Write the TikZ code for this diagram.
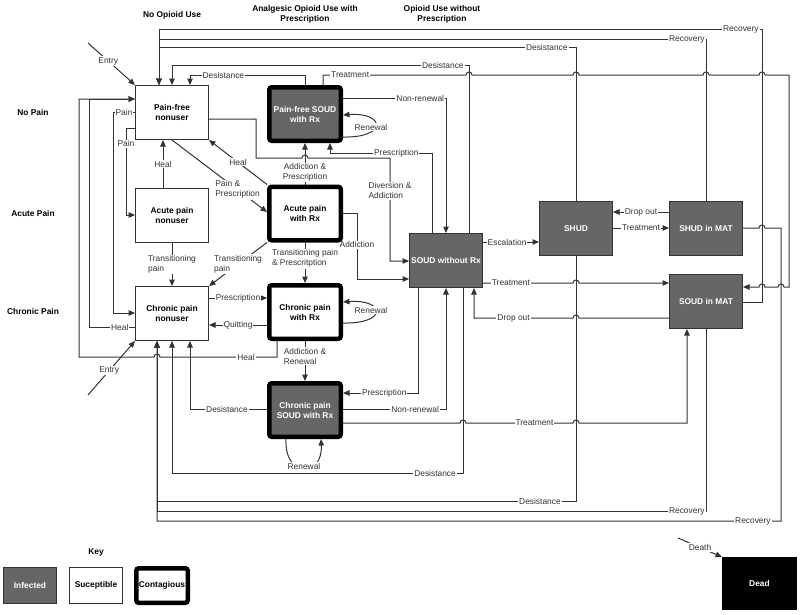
\documentclass[tikz,border=0pt]{standalone}
\usepackage{fontspec}
\setmainfont{Liberation Sans}
\usetikzlibrary{arrows.meta}
\definecolor{lc}{HTML}{333333}
\definecolor{infc}{HTML}{666666}
\newcommand\lblsize{\fontsize{8.4}{10}\selectfont}
\pgfdeclarelayer{bg}
\pgfsetlayers{bg,main}
\begin{document}
\begin{tikzpicture}[x=1pt,y=-1pt,
  box/.style={draw=lc, line width=0.8pt, minimum width=73.2pt, minimum height=54.2pt, inner sep=1pt, font=\bfseries\lblsize, align=center},
  sus/.style={box, fill=white, text=black},
  inf/.style={box, fill=infc, text=white},
  con/.style={box, draw=black, line width=4.5pt, rounded corners=2.5pt, minimum width=71.5pt, minimum height=53.5pt},
  hdr/.style={font=\bfseries\lblsize, text=black, inner sep=0pt, align=center},
  lbl/.style={fill=white, inner sep=1pt, font=\lblsize, text=lc},
  arr/.style={draw=lc, line width=1pt, -{Triangle[length=6.5pt,width=5.5pt]}}]
\useasboundingbox (0,0) rectangle (800,614);
% headers
\node[hdr] (h1) at (172,15) {No Opioid Use};
\node[hdr] (h2) at (305,14) {Analgesic Opioid Use with\\Prescription};
\node[hdr] (h3) at (442,14) {Opioid Use without\\Prescription};
\node[hdr] (r1) at (33,112) {No Pain};
\node[hdr] (r2) at (33,213) {Acute Pain};
\node[hdr] (r3) at (33,311) {Chronic Pain};
% boxes
\node[sus] (pfn) at (172,112.5) {Pain-free\\nonuser};
\node[con, fill=infc, text=white] (pfs) at (305,114) {Pain-free SOUD\\with Rx};
\node[sus] (apn) at (172,215.5) {Acute pain\\nonuser};
\node[con, fill=white] (apr) at (305,213.5) {Acute pain\\with Rx};
\node[sus] (cpn) at (172,313.5) {Chronic pain\\nonuser};
\node[con, fill=white] (cpr) at (305,312) {Chronic pain\\with Rx};
\node[con, fill=infc, text=white] (cps) at (305,410) {Chronic pain\\SOUD with Rx};
\node[inf] (sw) at (446,260.5) {SOUD without Rx};
\node[inf] (shud) at (576,228.5) {SHUD};
\node[inf] (shm) at (706,228.5) {SHUD in MAT};
\node[inf] (smat) at (706,301.5) {SOUD in MAT};
\node[box, draw=black, fill=black, text=white, minimum width=74.2pt, minimum height=52.2pt] (dead) at (759.5,583.5) {Dead};
% key
\node[hdr] (keyt) at (96,552) {Key};
\node[inf, minimum width=53pt, minimum height=36pt] (k1) at (30,585.5) {Infected};
\node[sus, minimum width=53pt, minimum height=36pt] (k2) at (96,585.5) {Suceptible};
\node[con, fill=white, minimum width=51.5pt, minimum height=34.5pt] (k3) at (162,585.5) {Contagious};
\coordinate (e1) at (88,43);
\coordinate (e2) at (88,395);
\coordinate (d1) at (678,538);
\begin{pgfonlayer}{bg}
\fill[white] (0,0) rectangle (800,614);
% entry / death
\draw[arr] (e1) -- node[lbl,pos=0.43]{Entry} (pfn.north west);
\draw[arr] (e2) -- node[lbl,pos=0.45]{Entry} (cpn.south west);
\draw[arr] (d1) -- node[lbl,pos=0.5]{Death} (dead.north west);
% no opioid column
\draw[arr] (apn.north -| 163,0) -- node[lbl]{Heal} (pfn.south -| 163,0);
\draw[arr] (apn.south) -- node[lbl,align=left]{Transitioning\\pain} (cpn.north);
\draw[arr] (pfn.south) -- node[lbl,align=left,pos=0.69]{Pain \&\\Prescription} (apr.west |- 0,212);
\draw[arr] (apr.north west) -- node[lbl]{Heal} (pfn.south east);
\draw[arr] (apr.south west) -- node[lbl,align=left]{Transitioning\\pain} (cpn.north east);
\draw[arr] (apr.north) -- node[lbl,align=center,pos=0.29]{Addiction \&\\Prescription} (pfs.south);
\draw[arr] (apr.south) -- node[lbl,align=left,pos=0.4]{Transitioning pain\\\& Prescritption} (cpr.north);
\draw[arr] (cpr.south) -- node[lbl,align=left,pos=0.38]{Addiction \&\\Renewal} (cps.north);
\draw[arr] (cpn.east |- 0,298) -- node[lbl]{Prescription} (cpr.west |- 0,298);
\draw[arr] (cpr.west |- 0,325) -- node[lbl]{Quitting} (cpn.east |- 0,325);
% renewal loops
\draw[arr] (pfs.east |- 0,137) .. controls (388,138) and (385,112) .. (pfs.east |- 0,115);
\node[lbl] (rn1) at (371,127) {Renewal};
\draw[arr] (cpr.east |- 0,323) .. controls (388,324) and (385,299) .. (cpr.east |- 0,302);
\node[lbl] (rn2) at (371,310) {Renewal};
\draw[arr] (cps.south -| 286,0) .. controls (284,478) and (323,478) .. (cps.south -| 321,0);
\node[lbl] (rn3) at (304,466) {Renewal};
% to / from SOUD without Rx
\draw[arr] (pfs.east |- 0,98) -- node[lbl,pos=0.75]{Non-renewal} (446,98) -- (sw.north);
\draw[arr] (sw.north -| 432,0) -- (432,153) -- node[lbl,pos=0.35]{Prescription} (330,153) -- (pfs.south -| 330,0);
\draw[arr] (pfn.east |- 0,119) -- (256,119) -- (256,158) -- (302,158) .. controls +(0,-4) and +(0,-4) .. (308,158) -- (390,158) -- node[lbl,align=left,pos=0.32]{Diversion \&\\Addiction} (390,261) -- (sw.west |- 0,261);
\draw[arr] (apr.east |- 0,213) -- (357,213) -- node[lbl,pos=0.48]{Addiction} (357,279) -- (sw.west |- 0,279);
\draw[arr] (sw.east |- 0,242) -- node[lbl,pos=0.43]{Escalation} (shud.west |- 0,242);
\draw[arr] (sw.east |- 0,283) -- node[lbl,pos=0.31]{Treatment} (573,283) .. controls +(0,-4) and +(0,-4) .. (579,283) -- (smat.west |- 0,283);
\draw[arr] (smat.west |- 0,318) -- (579,318) .. controls +(0,-4) and +(0,-4) .. (573,318) -- node[lbl,pos=0.6]{Drop out} (474,318) -- (sw.south -| 474,0);
\draw[arr] (shm.west |- 0,212) -- node[lbl]{Drop out} (shud.east |- 0,212);
\draw[arr] (shud.east |- 0,228) -- node[lbl]{Treatment} (shm.west |- 0,228);
% top lines
\draw[arr] (shud.north) -- (576,47) -- node[lbl,pos=0.07]{Desistance} (159,47) -- (pfn.north -| 159,0);
\draw[arr] (shm.north) -- (706,39) -- node[lbl,pos=0.035]{Recovery} (159,39) -- (pfn.north -| 159,0);
\draw[arr] (smat.east |- 0,302) -- (762,302) -- (762,29) -- node[lbl,pos=0.035]{Recovery} (159,29) -- (pfn.north -| 159,0);
\draw[arr] (sw.north -| 469,0) -- (469,65) -- node[lbl,pos=0.088]{Desistance} (172,65) -- (pfn.north);
\draw[arr] (pfs.north) -- (305,75) -- node[lbl,pos=0.71]{Desistance} (190,75) -- (pfn.north -| 190,0);
\draw[arr] (pfs.north -| 323,0) -- (323,75) -- node[lbl,pos=0.19]{Treatment} (466,75) .. controls +(0,-4) and +(0,-4) .. (472,75) -- (573,75) .. controls +(0,-4) and +(0,-4) .. (579,75) -- (703,75) .. controls +(0,-4) and +(0,-4) .. (709,75) -- (759,75) .. controls +(0,-4) and +(0,-4) .. (765,75) -- (789,75) -- (789,287) -- (784,287) .. controls +(0,-4) and +(0,-4) .. (778,287) -- (765,287) .. controls +(0,-4) and +(0,-4) .. (759,287) -- (smat.east |- 0,287);
% bottom lines
\draw[arr] (shm.east |- 0,228) -- (759,228) .. controls +(0,-4) and +(0,-4) .. (765,228) -- (781,228) -- (781,521) -- node[lbl,pos=0.045]{Recovery} (157,521) -- (cpn.south -| 157,0);
\draw[arr] (smat.south) -- (706,511) -- node[lbl,pos=0.035]{Recovery} (157,511) -- (cpn.south -| 157,0);
\draw[arr] (shud.south) -- (576,501) -- node[lbl,pos=0.086]{Desistance} (157,501) -- (cpn.south -| 157,0);
\draw[arr] (sw.south -| 463,0) -- (463,473) -- node[lbl,pos=0.096]{Desistance} (172,473) -- (cpn.south);
\draw[arr] (cps.west |- 0,409) -- node[lbl,pos=0.52]{Desistance} (190,409) -- (cpn.south -| 190,0);
\draw[arr] (cpr.south -| 277,0) -- (277,357) -- node[lbl,pos=0.265]{Heal} (160,357) .. controls +(0,-4) and +(0,-4) .. (154,357) -- (79,357) -- (79,99) -- (pfn.west |- 0,99);
\draw[arr] (cpn.west |- 0,327) -- node[lbl,pos=0.33]{Heal} (89,327) -- (89,99) -- (pfn.west |- 0,99);
\draw[arr] (pfn.west |- 0,112) -- node[lbl,pos=0.5]{Pain} (113,112) -- (113,313) -- (cpn.west |- 0,313);
\draw[arr] (pfn.west |- 0,128) -- (126,128) -- node[lbl,pos=0.18]{Pain} (126,215) -- (apn.west |- 0,215);
\draw[arr] (sw.south -| 418,0) -- (418,393) -- node[lbl,pos=0.45]{Prescription} (cps.east |- 0,393);
\draw[arr] (cps.east |- 0,409) -- node[lbl,pos=0.7]{Non-renewal} (446,409) -- (sw.south);
\draw[arr] (cps.east |- 0,423) -- (460,423) .. controls +(0,-4) and +(0,-4) .. (466,423) -- node[lbl,pos=0.64]{Treatment} (573,423) .. controls +(0,-4) and +(0,-4) .. (579,423) -- (687,423) -- (smat.south -| 687,0);
\end{pgfonlayer}
\end{tikzpicture}
\end{document}
